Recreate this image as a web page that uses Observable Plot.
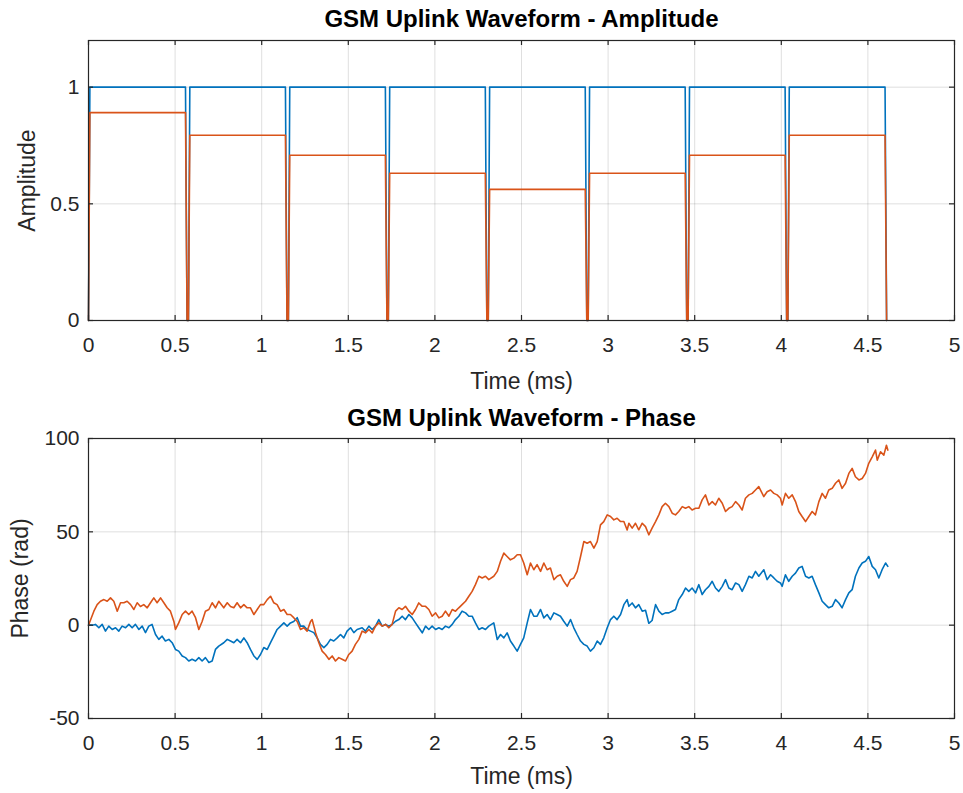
<!DOCTYPE html>
<html>
<head>
<meta charset="utf-8">
<script src="https://cdn.jsdelivr.net/npm/d3@7"></script>
<script src="https://cdn.jsdelivr.net/npm/@observablehq/plot@0.6"></script>
<style>
  html, body { margin: 0; padding: 0; background: #ffffff; }
  #chart { width: 963px; height: 793px; }
  #chart svg { display: block; }
</style>
</head>
<body>
<div id="chart"></div>
<script>
// ---------- tick labels ----------
const xTicks = [0, 0.5, 1, 1.5, 2, 2.5, 3, 3.5, 4, 4.5, 5];
const ampTicks = [0, 0.5, 1];
const phaseTicks = [-50, 0, 50, 100];

// ---------- amplitude bursts (8 timeslots, ms) ----------
const riseStart = [0.000, 0.577, 1.154, 1.731, 2.308, 2.885, 3.462, 4.038];
const riseEnd   = [0.008, 0.585, 1.162, 1.739, 2.316, 2.893, 3.470, 4.046];
const fallStart = [0.560, 1.137, 1.714, 2.291, 2.868, 3.445, 4.022, 4.599];
const fallEnd   = [0.569, 1.146, 1.723, 2.300, 2.877, 3.454, 4.031, 4.608];
const levelBlue   = [1, 1, 1, 1, 1, 1, 1, 1];
const levelOrange = [0.891, 0.794, 0.708, 0.631, 0.562, 0.631, 0.708, 0.794];

// ---------- phase traces [time ms, rad] ----------
const phaseBlue = [
[0,0],[0.021,0],[0.040,0.4],[0.060,-1.4],[0.079,0.4],[0.098,-3.2],[0.117,-0.5],[0.137,-2.3],[0.156,-1.4],[0.175,-3.2],[0.194,-0.5],[0.214,-1.4],[0.233,0.4],[0.252,-1.4],[0.271,0.4],[0.291,-2.3],[0.310,-0.5],[0.329,-4],[0.348,-0.5],[0.367,0.4],[0.387,-5],[0.406,-7.6],[0.425,-5.9],[0.444,-8.5],[0.464,-7.6],[0.483,-9.4],[0.502,-13],[0.521,-13.9],[0.541,-16.5],[0.560,-17.4],[0.579,-19.2],[0.598,-18.3],[0.618,-19.2],[0.637,-17.4],[0.656,-19.2],[0.675,-17.4],[0.695,-20],[0.714,-19.2],[0.733,-13],[0.752,-11.2],
[0.781,-9.4],[0.801,-7.6],[0.820,-8.5],[0.839,-9.4],[0.858,-7.6],[0.878,-9.4],[0.897,-6.8],[0.916,-9.4],[0.935,-13],[0.955,-16.5],[0.974,-18.3],[0.993,-15.7],[1.012,-12],[1.032,-13],[1.051,-9.4],[1.070,-5.9],[1.089,-2.3],[1.109,-0.5],[1.128,1.2],[1.147,-0.5],[1.166,1.2],[1.185,2],[1.205,4],[1.224,-0.5],[1.243,-0.5],[1.262,-2.3],[1.282,-3.2],[1.301,-4],[1.320,-6.8],[1.339,-10.3],[1.359,-12],[1.378,-10.3],[1.397,-7.6],[1.416,-8.5],[1.436,-6.8],[1.455,-5],[1.474,-6.8],[1.493,-3.2],[1.513,-1.4],[1.532,-4],[1.551,-2.3],
[1.580,-1.4],[1.599,-3.2],[1.619,-0.5],[1.638,-2.3],[1.657,-0.5],[1.676,3],[1.696,-0.5],[1.715,0.4],[1.734,-0.5],[1.753,0.4],[1.773,2.1],[1.792,3],[1.811,4.8],[1.830,3],[1.850,5.7],[1.869,3.9],[1.888,1.2],[1.907,-1.4],[1.927,-4.1],[1.946,-0.5],[1.965,-2.3],[1.984,-0.5],[2.004,-2.3],[2.023,-1.4],[2.042,-2.3],[2.061,-0.5],[2.081,-1.4],[2.100,0.4],[2.119,3],[2.138,4.8],[2.157,7.5],[2.177,6.6],[2.196,4.8],[2.215,4.8],[2.234,1.2],[2.254,-2.3],[2.273,-1.4],[2.292,-2.3],[2.311,-0.5],
[2.340,1.2],[2.360,-7.7],[2.379,-5],[2.398,-6.8],[2.417,-4.1],[2.436,-8.5],[2.456,-11.2],[2.475,-13.9],[2.494,-10.3],[2.513,-6.8],[2.533,1.2],[2.552,8.4],[2.571,4.8],[2.590,4.8],[2.610,8.4],[2.629,3.9],[2.648,5.7],[2.667,3],[2.687,6.6],[2.706,5.7],[2.725,4.8],[2.744,2.1],[2.764,-0.5],[2.783,3],[2.802,-1.4],[2.821,-5],[2.841,-8.5],[2.860,-10.3],[2.879,-11.2],[2.898,-13.9],[2.918,-12.1],[2.937,-8.5],[2.956,-10.3],[2.975,-6.8],[2.995,-1.4],[3.014,3],[3.033,4.8],[3.052,3],[3.072,5.7],[3.091,11],[3.110,13.7],
[3.120,10.1],[3.139,11.9],[3.158,9.3],[3.177,11],[3.197,7.5],[3.216,8],[3.235,1],[3.254,2.5],[3.274,11],[3.293,7.5],[3.312,5.7],[3.331,6.6],[3.351,6.6],[3.370,7.5],[3.389,8.4],[3.408,13.7],[3.428,16.4],[3.447,19.9],[3.466,18.1],[3.485,19.9],[3.505,17.3],[3.524,21.7],[3.543,16.4],[3.562,19],[3.582,20.8],[3.601,23.5],[3.620,19.9],[3.639,18.1],[3.659,20.8],[3.678,24.4],[3.697,19.9],[3.716,19],[3.736,22.6],[3.755,21.7],[3.774,18.1],[3.793,21.7],[3.813,26.2],[3.832,25.3],[3.851,28.8],[3.870,26.2],
[3.899,29.7],[3.918,24.4],[3.938,27],[3.957,25.3],[3.976,23.5],[3.995,22.6],[4.005,20.8],[4.024,27],[4.043,23.5],[4.063,26.2],[4.082,27.9],[4.101,30.6],[4.120,31.5],[4.140,26.2],[4.159,25.3],[4.178,26.2],[4.197,21.7],[4.217,17.3],[4.236,12.8],[4.255,11],[4.274,9.3],[4.294,10.1],[4.313,13.7],[4.332,11.9],[4.351,9.3],[4.371,13.7],[4.390,17.3],[4.409,19],[4.428,26.2],[4.448,30.6],[4.467,33.3],[4.486,34.2],[4.505,36.8],[4.525,31.5],[4.544,29.7],[4.563,25.3],[4.582,29.7],[4.602,33.3],[4.615,31.5]
];

const phaseOrange = [
[0,0],[0.031,7.5],[0.050,11],[0.069,12.8],[0.089,13.7],[0.108,12.8],[0.127,14.6],[0.146,12.8],[0.166,7.5],[0.185,12],[0.204,12],[0.223,12.8],[0.243,11],[0.262,8.4],[0.281,12],[0.300,10],[0.319,11],[0.339,9.3],[0.358,12],[0.377,14.6],[0.396,12],[0.416,14.6],[0.435,12],[0.454,9.3],[0.473,7.5],[0.493,2],[0.502,-2.3],[0.521,1.2],[0.541,5.7],[0.560,7.5],[0.579,5.7],[0.598,7.5],[0.618,4],[0.637,-2.3],[0.656,2],[0.675,7.5],[0.695,8.4],[0.714,12],[0.733,9.3],[0.752,12.8],
[0.781,9.3],[0.801,12],[0.820,10],[0.839,9.3],[0.858,12],[0.878,9.3],[0.897,11],[0.916,9.3],[0.935,9.3],[0.955,5.7],[0.974,8.4],[0.993,11],[1.012,11],[1.032,13.7],[1.051,15.5],[1.070,12],[1.089,11],[1.109,7.5],[1.128,8.4],[1.147,5.7],[1.166,5.7],[1.185,4],[1.205,2],[1.224,-2.3],[1.243,-1.4],[1.262,-3.2],[1.282,2],[1.291,3],[1.311,-4],[1.330,-9.4],[1.349,-13.9],[1.368,-15.7],[1.388,-18.3],[1.407,-16.5],[1.426,-19.2],[1.445,-17.4],[1.464,-18.3],[1.484,-19.2],[1.503,-15.7],[1.522,-13.9],[1.541,-10.3],[1.561,-7.6],
[1.580,-3.2],[1.599,-4.1],[1.619,-2.3],[1.638,-4.1],[1.657,-0.5],[1.676,1.2],[1.696,-0.5],[1.715,0.4],[1.734,-1.4],[1.753,0.4],[1.773,7.5],[1.792,9.3],[1.811,8.4],[1.830,10.1],[1.850,7.5],[1.869,5.7],[1.888,8.4],[1.907,11.9],[1.927,10.1],[1.946,10.1],[1.965,8.4],[1.984,4.8],[2.004,6.6],[2.023,3.9],[2.042,4.8],[2.061,7.5],[2.081,4.8],[2.100,8.4],[2.119,7.5],[2.138,9.3],[2.157,11],[2.177,12.8],[2.196,15.5],[2.215,18.1],[2.234,21.7],[2.254,26.2],[2.273,25.3],[2.292,26.2],[2.311,24.4],
[2.340,26.2],[2.360,28.8],[2.379,34.2],[2.398,38.6],[2.417,36.8],[2.436,35],[2.456,35.9],[2.475,37.7],[2.494,37.7],[2.513,33.3],[2.533,27],[2.552,33.3],[2.571,29.7],[2.590,32.4],[2.610,28.8],[2.629,33.3],[2.648,29.7],[2.667,30.6],[2.687,24.4],[2.706,26.2],[2.725,27],[2.744,23.5],[2.764,20.8],[2.783,24.4],[2.802,25.3],[2.821,28.8],[2.841,36.8],[2.860,44.8],[2.879,43.9],[2.898,44.8],[2.918,41.3],[2.937,44.8],[2.956,53.7],[2.975,55.5],[2.995,59.1],[3.014,58.2],[3.033,56.4],[3.052,57.3],[3.072,55.5],[3.091,55.5],[3.110,51],
[3.120,54.6],[3.139,52],[3.158,54.6],[3.177,51.1],[3.197,54.6],[3.216,52.8],[3.235,48.4],[3.254,52],[3.274,55.5],[3.293,59.1],[3.312,63.5],[3.331,65.3],[3.351,63.5],[3.370,60],[3.389,59.1],[3.408,60.9],[3.428,63.5],[3.447,62.6],[3.466,63.5],[3.485,61.7],[3.505,62.6],[3.524,62.6],[3.543,67.1],[3.562,69.8],[3.582,64.4],[3.601,66.2],[3.620,64.4],[3.639,68],[3.659,65.3],[3.678,60.9],[3.697,62.6],[3.716,63.5],[3.736,66.2],[3.755,64.4],[3.774,61.7],[3.793,68],[3.813,69.8],[3.832,70.6],[3.851,72.4],[3.870,74.2],
[3.899,68.9],[3.918,71.5],[3.938,72.4],[3.957,70.6],[3.976,69.8],[3.995,68],[4.005,64.4],[4.024,70.6],[4.043,68],[4.063,69.8],[4.082,66.2],[4.101,60.9],[4.120,58.2],[4.140,55.5],[4.159,58.2],[4.178,60.9],[4.197,59.1],[4.217,66.2],[4.236,70.6],[4.255,68],[4.274,72.4],[4.294,73.3],[4.313,76],[4.332,77.8],[4.351,73.3],[4.371,76],[4.390,81.3],[4.409,84],[4.428,79.5],[4.448,77.8],[4.467,78.6],[4.486,81.3],[4.505,86.7],[4.525,90.2],[4.544,93.8],[4.554,88.4],[4.573,92.9],[4.592,91.1],[4.607,96.4],[4.615,93.8]
];

// ---------- styles ----------
const BLUE = "#0072BD";
const ORANGE = "#D95319";
const AXIS = "#262626";
const FONT = "'Liberation Sans', Arial, Helvetica, sans-serif";
const W = 963;
const ML = 88, MR = 9;
const FRAME_W = W - ML - MR;   // 866
const FRAME_H = 280;
const TICK = 5;
const TICK_FONT = 21;
const LABEL_FONT = 23;
const TITLE_FONT = 24;

function burstRows(levels) {
  const rows = [];
  levels.forEach((L, k) => {
    rows.push({t: riseStart[k], v: 0});
    rows.push({t: riseEnd[k], v: L});
    rows.push({t: fallStart[k], v: L});
    rows.push({t: fallEnd[k], v: 0});
  });
  return rows;
}
const ampBlueRows = burstRows(levelBlue);
const ampOrangeRows = burstRows(levelOrange);
const phBlueRows = phaseBlue.map(([t, v]) => ({t, v}));
const phOrangeRows = phaseOrange.map(([t, v]) => ({t, v}));

function panel({title, titleDy, ylabel, ylabelDx, yDomain, yTicks, lines, height, marginBottom, xLabelDy}) {
  return Plot.plot({
    width: W,
    height,
    marginLeft: ML,
    marginRight: MR,
    marginTop: 40,
    marginBottom,
    style: {fontFamily: FONT, fontSize: TICK_FONT + "px", color: AXIS, background: "#fff", overflow: "visible"},
    x: {domain: [0, 5]},
    y: {domain: yDomain},
    marks: [
      Plot.gridX(xTicks, {stroke: AXIS, strokeOpacity: 0.15, strokeWidth: 1}),
      Plot.gridY(yTicks, {stroke: AXIS, strokeOpacity: 0.15, strokeWidth: 1}),
      ...lines.map(({rows, color}) => Plot.line(rows, {x: "t", y: "v", stroke: color, strokeWidth: 1.6, curve: "linear"})),
      Plot.frame({stroke: AXIS, strokeWidth: 1.2}),
      Plot.tickX(xTicks, {x: d => d, stroke: AXIS, strokeWidth: 1.2, insetTop: FRAME_H - TICK}),
      Plot.tickX(xTicks, {x: d => d, stroke: AXIS, strokeWidth: 1.2, insetBottom: FRAME_H - TICK}),
      Plot.tickY(yTicks, {y: d => d, stroke: AXIS, strokeWidth: 1.2, insetRight: FRAME_W - TICK}),
      Plot.tickY(yTicks, {y: d => d, stroke: AXIS, strokeWidth: 1.2, insetLeft: FRAME_W - TICK}),
      Plot.axisX({ticks: xTicks, tickSize: 0, tickPadding: 17, tickFormat: d => String(d), label: null, fontSize: TICK_FONT, fill: AXIS}),
      Plot.axisY({ticks: yTicks, tickSize: 0, tickPadding: 9, tickFormat: d => String(d), label: null, fontSize: TICK_FONT, fill: AXIS}),
      Plot.text([title], {text: d => d, frameAnchor: "top", dy: titleDy, lineAnchor: "middle", textAnchor: "middle", fontWeight: "bold", fontSize: TITLE_FONT, fill: "#000"}),
      Plot.text(["Time (ms)"], {text: d => d, frameAnchor: "bottom", dy: xLabelDy, lineAnchor: "middle", textAnchor: "middle", fontSize: LABEL_FONT, fill: AXIS}),
      Plot.text([ylabel], {text: d => d, frameAnchor: "left", dx: ylabelDx, lineAnchor: "middle", textAnchor: "middle", rotate: -90, fontSize: LABEL_FONT, fill: AXIS})
    ]
  });
}

const ampPanel = panel({
  title: "GSM Uplink Waveform - Amplitude",
  titleDy: -21,
  ylabel: "Amplitude",
  ylabelDx: -61,
  yDomain: [0, 1.2],
  yTicks: ampTicks,
  lines: [{rows: ampBlueRows, color: BLUE}, {rows: ampOrangeRows, color: ORANGE}],
  height: 398,
  marginBottom: 78,
  xLabelDy: 61
});

const phasePanel = panel({
  title: "GSM Uplink Waveform - Phase",
  titleDy: -20,
  ylabel: "Phase (rad)",
  ylabelDx: -68,
  yDomain: [-50, 100],
  yTicks: phaseTicks,
  lines: [{rows: phBlueRows, color: BLUE}, {rows: phOrangeRows, color: ORANGE}],
  height: 395,
  marginBottom: 75,
  xLabelDy: 58
});

const chartEl = document.getElementById("chart");
chartEl.appendChild(ampPanel);
chartEl.appendChild(phasePanel);
</script>
</body>
</html>
